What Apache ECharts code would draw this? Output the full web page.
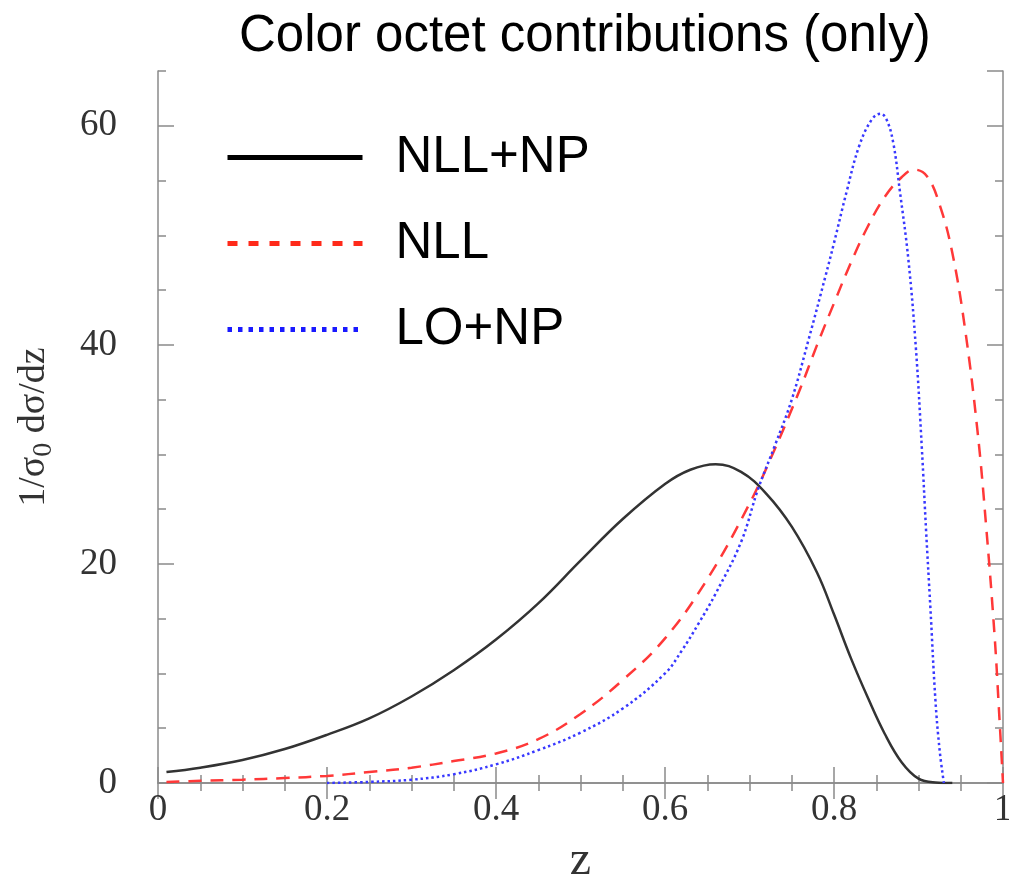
<!DOCTYPE html>
<html>
<head>
<meta charset="utf-8">
<script src="https://cdn.jsdelivr.net/npm/echarts@6/dist/echarts.min.js"></script>
<style>
  html, body { margin: 0; padding: 0; background: #fff; }
  #chart { width: 1009px; height: 881px; }
</style>
</head>
<body>
<div id="chart"></div>
<script>
// values
var seriesNames = ['NLL+NP', 'NLL', 'LO+NP'];

var zNllNp = [0.01, 0.05, 0.1, 0.15, 0.2, 0.25, 0.3, 0.35, 0.4, 0.45, 0.5, 0.55, 0.6, 0.63, 0.66, 0.69, 0.72, 0.75, 0.78, 0.8, 0.82, 0.84, 0.86, 0.88, 0.9, 0.92, 0.94];
var vNllNp = [1.0, 1.4, 2.1, 3.1, 4.4, 5.9, 7.9, 10.3, 13.1, 16.4, 20.3, 24.1, 27.3, 28.6, 29.1, 28.4, 26.4, 23.4, 19.2, 15.4, 11.4, 7.8, 4.5, 1.9, 0.4, 0.05, 0];

var zNll = [0.01, 0.05, 0.1, 0.15, 0.2, 0.25, 0.3, 0.35, 0.4, 0.45, 0.5, 0.55, 0.6, 0.65, 0.7, 0.73, 0.76, 0.78, 0.8, 0.82, 0.84, 0.86, 0.88, 0.895, 0.91, 0.925, 0.94, 0.955, 0.97, 0.98, 0.99, 0.995, 1.0];
var vNll = [0.1, 0.2, 0.3, 0.45, 0.65, 1.0, 1.4, 2.0, 2.7, 4.0, 6.3, 9.4, 13.2, 18.6, 25.5, 30.5, 36.0, 40.0, 43.8, 47.5, 50.8, 53.5, 55.3, 56.0, 55.4, 52.8, 48.4, 41.5, 32.0, 23.5, 13.5, 7.0, 0];

var zLoNp = [0.2, 0.25, 0.3, 0.35, 0.4, 0.45, 0.5, 0.55, 0.6, 0.62, 0.64, 0.66, 0.69, 0.71, 0.73, 0.75, 0.77, 0.79, 0.8, 0.815, 0.83, 0.845, 0.855, 0.862, 0.87, 0.878, 0.888, 0.897, 0.904, 0.909, 0.914, 0.92, 0.925, 0.93];
var vLoNp = [0, 0.1, 0.3, 0.8, 1.7, 3.0, 4.6, 6.8, 10.0, 12.1, 14.6, 17.3, 22.0, 26.8, 30.8, 35.0, 40.5, 46.3, 49.3, 54.0, 58.2, 60.6, 61.1, 60.6, 58.5, 54.0, 47.8, 39.6, 30.5, 23.0, 16.1, 7.6, 3.0, 0];

function pairs(zs, vs) {
  return zs.map(function (z, i) { return [z, vs[i]]; });
}

var chart = echarts.init(document.getElementById('chart'));

var axisColor = '#8a8a8a';
var labelFont = {
  fontFamily: 'Liberation Serif',
  fontSize: 37,
  color: '#333'
};

var option = {
  backgroundColor: '#fff',
  animation: false,
  title: {
    text: 'Color octet contributions (only)',
    left: 234,
    top: 6,
    textStyle: {
      fontFamily: 'Liberation Sans',
      fontWeight: 'normal',
      fontSize: 51,
      color: '#000'
    }
  },
  legend: {
    orient: 'vertical',
    left: 225,
    top: 132,
    padding: 0,
    itemWidth: 135,
    itemHeight: 16,
    itemGap: 35,
    itemStyle: { opacity: 0 },
    textStyle: {
      fontFamily: 'Liberation Sans',
      fontSize: 51,
      lineHeight: 50,
      color: '#000',
      padding: [0, 0, 0, 28]
    },
    data: [
      { name: 'NLL+NP', lineStyle: { width: 5, color: '#000', type: 'solid' } },
      { name: 'NLL', lineStyle: { width: 5, color: '#ff2a1a', type: [10, 11] } },
      { name: 'LO+NP', lineStyle: { width: 5, color: '#1a1aff', type: [4.5, 6] } }
    ]
  },
  grid: {
    left: 158,
    right: 6,
    top: 71,
    bottom: 98,
    containLabel: false,
    outerBoundsMode: 'none'
  },
  xAxis: [
    {
      type: 'value',
      min: 0,
      max: 1,
      interval: 0.2,
      position: 'bottom',
      name: 'z',
      nameLocation: 'middle',
      nameGap: 54,
      nameTextStyle: { fontFamily: 'Liberation Serif', fontSize: 48, color: '#333' },
      axisLine: { show: true, lineStyle: { color: axisColor, width: 1.5 } },
      axisTick: { inside: true, length: 16, lineStyle: { color: axisColor, width: 1.5 } },
      minorTick: { show: true, splitNumber: 4, length: 8, lineStyle: { color: axisColor, width: 1.5 } },
      axisLabel: Object.assign({ margin: 9 }, labelFont),
      splitLine: { show: false }
    },
    {
      type: 'value',
      min: 0,
      max: 1,
      interval: 0.2,
      position: 'top',
      axisLine: { show: true, lineStyle: { color: axisColor, width: 1.5 } },
      axisTick: { inside: true, length: 16, lineStyle: { color: axisColor, width: 1.5 } },
      minorTick: { show: true, splitNumber: 4, length: 8, lineStyle: { color: axisColor, width: 1.5 } },
      axisLabel: { show: false },
      splitLine: { show: false }
    }
  ],
  yAxis: [
    {
      type: 'value',
      min: 0,
      max: 65,
      interval: 20,
      position: 'left',
      name: '{a|1/σ}{s|0}{a| dσ/dz}',
      nameLocation: 'middle',
      nameGap: 100,
      nameTextStyle: {
        rich: {
          a: { fontFamily: 'Liberation Serif', fontSize: 38, color: '#333', lineHeight: 48, verticalAlign: 'middle' },
          s: { fontFamily: 'Liberation Serif', fontSize: 28, color: '#333', lineHeight: 48, verticalAlign: 'bottom' }
        }
      },
      axisLine: { show: true, lineStyle: { color: axisColor, width: 1.5 } },
      axisTick: { inside: true, length: 16, lineStyle: { color: axisColor, width: 1.5 } },
      axisLabel: Object.assign({ margin: 41, showMaxLabel: false }, labelFont),
      splitLine: { show: false }
    },
    {
      type: 'value',
      min: 0,
      max: 65,
      interval: 5,
      position: 'left',
      axisLine: { show: false },
      axisTick: { inside: true, length: 8, lineStyle: { color: axisColor, width: 1.5 } },
      axisLabel: { show: false },
      splitLine: { show: false }
    },
    {
      type: 'value',
      min: 0,
      max: 65,
      interval: 20,
      position: 'right',
      axisLine: { show: true, lineStyle: { color: axisColor, width: 1.5 } },
      axisTick: { inside: true, length: 16, lineStyle: { color: axisColor, width: 1.5 } },
      axisLabel: { show: false },
      splitLine: { show: false }
    },
    {
      type: 'value',
      min: 0,
      max: 65,
      interval: 5,
      position: 'right',
      axisLine: { show: false },
      axisTick: { inside: true, length: 8, lineStyle: { color: axisColor, width: 1.5 } },
      axisLabel: { show: false },
      splitLine: { show: false }
    }
  ],
  series: [
    {
      name: seriesNames[0],
      type: 'line',
      symbol: 'none',
      smooth: 0.4,
      lineStyle: { color: '#333', width: 2.5 },
      itemStyle: { color: '#000' },
      data: pairs(zNllNp, vNllNp)
    },
    {
      name: seriesNames[1],
      type: 'line',
      symbol: 'none',
      smooth: 0.4,
      lineStyle: { color: '#ff3838', width: 2.5, type: [13, 9] },
      itemStyle: { color: '#ff2a1a' },
      data: pairs(zNll, vNll)
    },
    {
      name: seriesNames[2],
      type: 'line',
      symbol: 'none',
      smooth: 0.4,
      lineStyle: { color: '#3838ff', width: 2.5, type: [2.5, 3] },
      itemStyle: { color: '#1a1aff' },
      data: pairs(zLoNp, vLoNp)
    }
  ]
};

chart.setOption(option);
</script>
</body>
</html>
